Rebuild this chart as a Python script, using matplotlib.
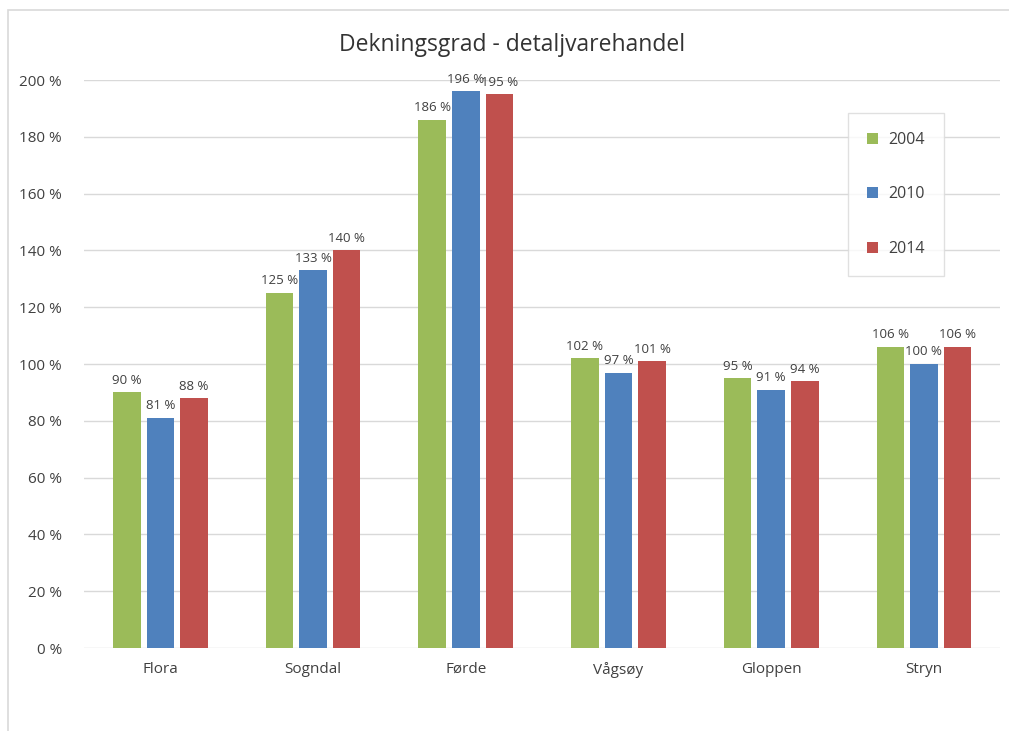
import matplotlib.pyplot as plt
import numpy as np
from matplotlib.patches import Rectangle

kommuner = ['Flora', 'Sogndal', 'Førde', 'Vågsøy', 'Gloppen', 'Stryn']
aar = ['2004', '2010', '2014']
v2004 = [90, 125, 186, 102, 95, 106]
v2010 = [81, 133, 196, 97, 91, 100]
v2014 = [88, 140, 195, 101, 94, 106]
yticks = [0, 20, 40, 60, 80, 100, 120, 140, 160, 180, 200]

farger = ['#9BBB59', '#4F81BD', '#C0504D']
tekst = '#404040'

plt.rcParams['font.family'] = ['Open Sans', 'DejaVu Sans']

fig = plt.figure(figsize=(10.09, 7.31), dpi=100)
# ramme rundt diagrammet
fig.patches.append(Rectangle((8 / 1009, -0.01), 1.0, 1 - 10 / 731 + 0.01,
                             transform=fig.transFigure, fill=False,
                             edgecolor='#D9D9D9', linewidth=1.2))

ax = fig.add_axes([0.0833, 0.1135, 0.908, 0.777])
x = np.arange(len(kommuner))
bredde = 0.18
avstand = 0.22

for i, (serie, farge) in enumerate(zip([v2004, v2010, v2014], farger)):
    pos = x + (i - 1) * avstand
    ax.bar(pos, serie, width=bredde, color=farge, label=aar[i], zorder=3)
    for px, v in zip(pos, serie):
        ax.annotate(f'{v} %', (px, v), xytext=(0, 4), textcoords='offset points',
                    ha='center', va='bottom', fontsize=9.5, color=tekst)

ax.set_xlim(-0.5, len(kommuner) - 0.5)
ax.set_ylim(0, 200)
ax.set_yticks(yticks)
ax.set_yticklabels([f'{t} %' for t in yticks], fontsize=11, color=tekst)
ax.set_xticks(x)
ax.set_xticklabels(kommuner, fontsize=11, color=tekst)
ax.tick_params(length=0, pad=10)
ax.tick_params(axis='y', pad=16)
ax.grid(axis='y', color='#D9D9D9', linewidth=1)
for s in ax.spines.values():
    s.set_visible(False)

fig.text(0.507, 0.938, 'Dekningsgrad - detaljvarehandel', ha='center', va='center',
         fontsize=16.5, color='#333333')

leg = ax.legend(loc='upper left', bbox_to_anchor=(0.834, 0.942), frameon=True,
                fontsize=11.5, labelspacing=2.4, handlelength=0.7, handleheight=0.7,
                borderpad=1.2, handletextpad=0.6, fancybox=False, borderaxespad=0)
leg.get_frame().set_edgecolor('#D9D9D9')
for t in leg.get_texts():
    t.set_color(tekst)

fig.savefig('out.png', dpi=100)
